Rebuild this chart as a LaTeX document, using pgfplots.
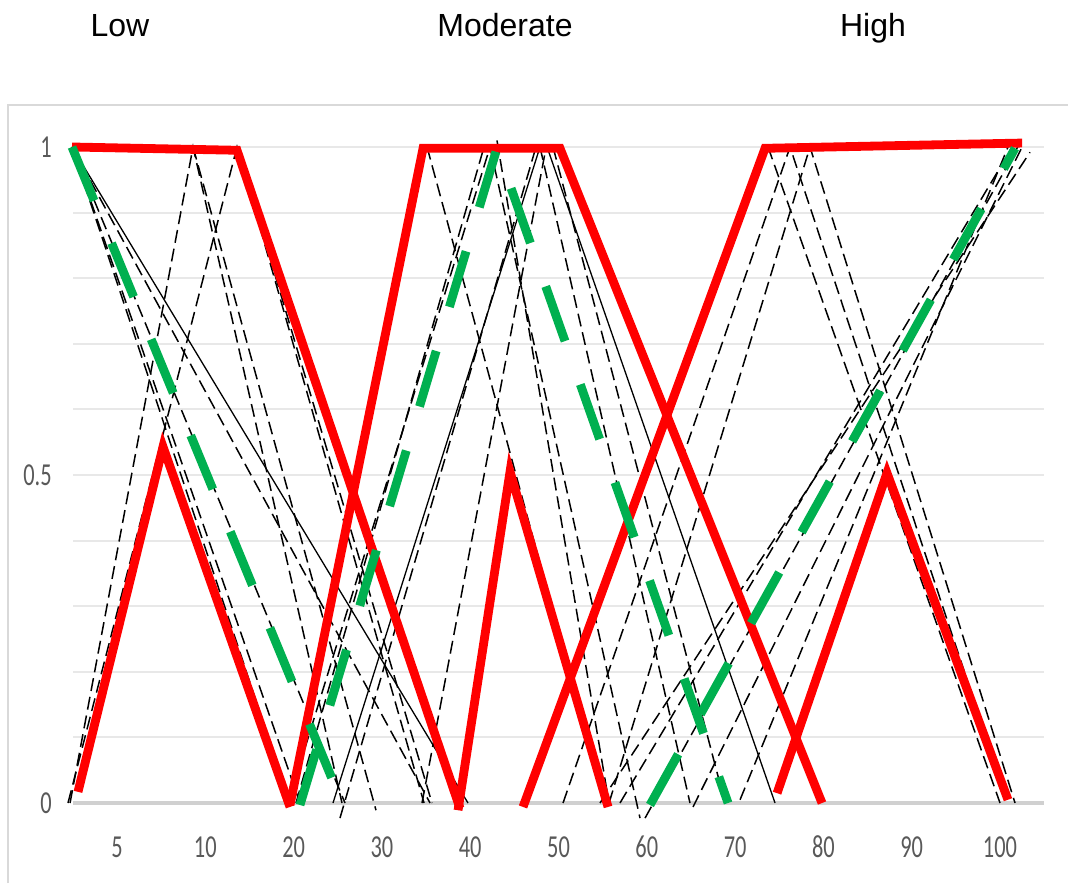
\documentclass[border=0pt]{standalone}
\usepackage{pgfplots}
\pgfplotsset{compat=1.18}
\usepackage{fontspec}
\setmainfont{Liberation Sans}
\newfontfamily\tickfont[FakeStretch=0.7]{Carlito}
\definecolor{tickgray}{HTML}{595959}
\definecolor{gridgray}{HTML}{E8E8E8}
\definecolor{axisgray}{HTML}{D0D0D0}
\definecolor{framegray}{HTML}{D9D9D9}
\definecolor{xlgreen}{HTML}{00B050}
\tikzset{
  bd/.style={black, line width=0.75pt, dash pattern=on 6.5pt off 3pt},
  bs/.style={black, line width=0.65pt},
  rl/.style={red, line width=4.4pt},
  gl/.style={xlgreen, line width=4.4pt, dash pattern=on 29pt off 23pt},
}
\begin{document}
\begin{tikzpicture}[x=1pt,y=1pt]
\useasboundingbox (0,0) rectangle (534,441.5);
\draw[framegray, line width=1pt] (4,0) -- (4,389) -- (534,389);
\node[font=\fontsize{16}{19}\selectfont, anchor=base] at (60,423) {Low};
\node[font=\fontsize{16}{19}\selectfont, anchor=base] at (252.5,423) {Moderate};
\node[font=\fontsize{16}{19}\selectfont, anchor=base] at (436.5,423) {High};
\begin{axis}[
  at={(36.43pt,40pt)}, anchor=south west,
  scale only axis, width=485.65pt, height=328pt,
  xmin=-0.5, xmax=10.5, ymin=0, ymax=1,
  clip=false, no markers,
  axis line style={draw=none},
  major tick length=0pt, minor tick length=0pt,
  xtick={0,1,2,3,4,5,6,7,8,9,10},
  xticklabels={5,10,20,30,40,50,60,70,80,90,100},
  ytick={0,0.5,1}, yticklabels={0,0.5,1},
  minor ytick={0.1,0.2,0.3,0.4,0.6,0.7,0.8,0.9},
  ymajorgrids, yminorgrids,
  major grid style={gridgray, line width=1pt},
  minor grid style={gridgray, line width=1pt},
  xticklabel style={font=\tickfont\fontsize{16}{19}\selectfont, text=tickgray, anchor=base, inner sep=0pt, yshift=-27pt},
  yticklabel style={font=\tickfont\fontsize{16}{19}\selectfont, text=tickgray, anchor=east, inner sep=0pt, xshift=-10.4pt},
]
\draw[axisgray, line width=1.6pt] (axis cs:-0.5,0) -- (axis cs:10.5,0);
% black lines: low group
\addplot[bd] coordinates {(-0.51,1) (1.959,0)};
\addplot[bd] coordinates {(-0.51,1) (2.072,0)};
\addplot[bd] coordinates {(-0.51,1) (2.582,0)};
\addplot[bd] coordinates {(-0.51,1) (3.545,0)};
\addplot[bs] coordinates {(-0.51,1) (3.975,0)};
\addplot[bd] coordinates {(-0.532,0) (0.861,1) (2.548,0)};
\addplot[bd] coordinates {(0.861,1) (2.933,-0.011)};
\addplot[bd] coordinates {(-0.555,0) (1.359,1) (3.477,0)};
\addplot[bd] coordinates {(1.359,1) (3.567,0)};
% moderate group
\addplot[bd] coordinates {(1.937,0) (4.224,1)};
\addplot[bd] coordinates {(2.027,0) (4.156,1)};
\addplot[bs] coordinates {(2.446,0) (4.79,1)};
\addplot[bd] coordinates {(2.525,-0.023) (4.745,1)};
\addplot[bd] coordinates {(3.454,0) (4.86,1)};
\addplot[bd] coordinates {(3.511,1) (5.527,0)};
\addplot[bd] coordinates {(4.224,1) (5.923,-0.023)};
\addplot[bd] coordinates {(4.79,1) (6.489,0)};
\addplot[bs] coordinates {(4.87,1) (7.452,0)};
\addplot[bd] coordinates {(4.938,1) (6.886,0)};
\addplot[bd] coordinates {(4.303,1.01) (5.572,0)};
% high group
\addplot[bd] coordinates {(5.051,0) (7.622,1) (10.09,0)};
\addplot[bd] coordinates {(5.572,0) (7.848,1) (10.17,0)};
\addplot[bd] coordinates {(7.373,1) (10.0,0)};
\addplot[bd] coordinates {(5.696,0) (10.14,1)};
\addplot[bd] coordinates {(5.98,-0.023) (10.2,1)};
\addplot[bd] coordinates {(6.523,-0.006) (10.25,1)};
\addplot[bd] coordinates {(7.056,0.005) (10.09,1)};
\addplot[bd] coordinates {(5.47,0) (10.34,0.992)};
% red sets
\addplot[rl] coordinates {(-0.51,1) (1.359,0.995) (3.884,-0.008)};
\addplot[rl] coordinates {(-0.442,0.017) (0.521,0.543) (1.959,-0.006)};
\addplot[rl] coordinates {(1.959,-0.003) (3.466,0.998) (5.017,0.998) (7.984,0)};
\addplot[rl] coordinates {(3.862,-0.011) (4.451,0.505) (5.561,-0.006)};
\addplot[rl] coordinates {(4.598,-0.006) (7.339,0.998) (10.25,1.006)};
\addplot[rl] coordinates {(7.475,0.015) (8.72,0.503) (10.09,0.005)};
% green sets
\addplot[gl] coordinates {(-0.51,1) (2.548,0)};
\addplot[gl] coordinates {(2.072,-0.003) (4.303,0.998) (6.92,0)};
\addplot[gl] coordinates {(6.036,-0.003) (10.17,0.998)};
\end{axis}
\end{tikzpicture}
\end{document}
